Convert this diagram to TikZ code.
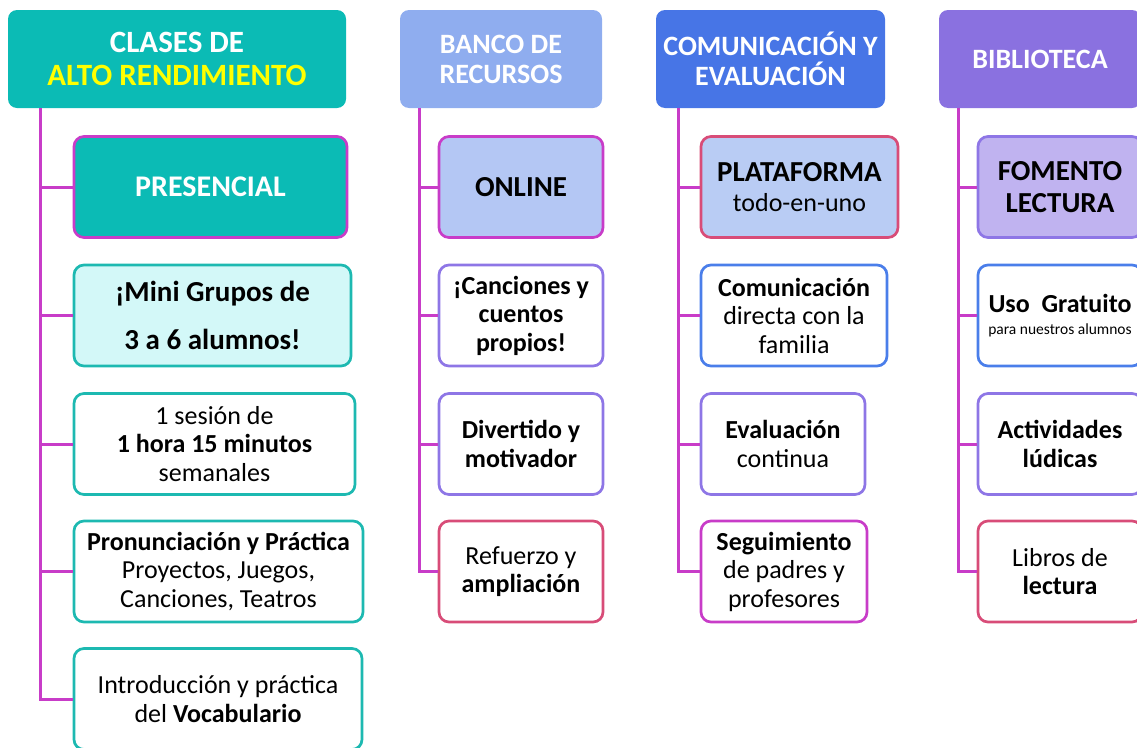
\documentclass[tikz,border=0pt]{standalone}
\usepackage{fontspec}
\setmainfont{Carlito}
\usetikzlibrary{calc, positioning}

\definecolor{cTeal}{HTML}{0BBBB5}
\definecolor{cTealB}{HTML}{1DB9B1}
\definecolor{cCyan}{HTML}{D3F8F8}
\definecolor{cYel}{HTML}{FFFF00}
\definecolor{cPeri}{HTML}{8FADEF}
\definecolor{cRoyal}{HTML}{4775E6}
\definecolor{cViol}{HTML}{8A71E0}
\definecolor{cLav}{HTML}{B4C7F4}
\definecolor{cLav2}{HTML}{B9CCF4}
\definecolor{cLil}{HTML}{C0B3F0}
\definecolor{cMag}{HTML}{C83CC8}
\definecolor{cPur}{HTML}{8E76E6}
\definecolor{cRed}{HTML}{D84C78}
\definecolor{cBlue}{HTML}{4A7EEA}

\begin{document}
\begin{tikzpicture}[x=1pt, y=-1pt,
  head/.style={fill=#1, rounded corners=9pt, text=white, align=center,
    inner sep=0pt, minimum height=98pt,
    font=\bfseries\fontsize{28}{30}\selectfont},
  box/.style={draw=#1, fill=white, line width=2.7pt, rounded corners=10pt,
    align=center, inner sep=0pt, minimum height=101pt,
    font=\fontsize{26}{28.5}\selectfont},
  link/.style={draw=cMag, line width=3pt}]
\def\rA{187}
\def\rB{315.5}
\def\rC{444}
\def\rD{571.5}
\useasboundingbox (0,0) rectangle (1137,747);
\clip (0,0) rectangle (1137,747);

\node[head=cTeal, minimum width=338pt, font=\bfseries\fontsize{31}{33}\selectfont]
  (hA) at (177,59) {CLASES DE\\\textcolor{cYel}{ALTO RENDIMIENTO}};
\node[head=cPeri, minimum width=202pt] (hB) at (501,59) {BANCO DE\\RECURSOS};
\node[head=cRoyal, minimum width=229pt] (hC) at (770.5,59) {COMUNICACIÓN Y\\EVALUACIÓN};
\node[head=cViol, minimum width=202pt] (hD) at (1040,59) {BIBLIOTECA};

\coordinate (tA) at (40,108);
\coordinate (tB) at (419,108);
\coordinate (tC) at (678,108);
\coordinate (tD) at (958,108);

% clases
\node[box=cMag, fill=cTeal, text=white, minimum width=273pt,
  font=\bfseries\fontsize{30}{32}\selectfont] (a1) at (210.5,\rA) {PRESENCIAL};
\node[box=cTealB, fill=cCyan, minimum width=277pt,
  font=\bfseries\fontsize{29}{48}\selectfont] (a2) at (212.5,\rB) {¡Mini Grupos de\\3 a 6 alumnos!};
\node[box=cTealB, minimum width=281pt] (a3) at (214.5,\rC)
  {1 sesión de\\\textbf{1 hora 15 minutos}\\semanales};
\node[box=cTealB, minimum width=289pt] (a4) at (218.5,\rD)
  {\textbf{Pronunciación y Práctica}\\Proyectos, Juegos,\\Canciones, Teatros};
\node[box=cTealB, minimum width=288pt] (a5) at (218,699)
  {Introducción y práctica\\del \textbf{Vocabulario}};

% recursos
\node[box=cMag, fill=cLav, minimum width=164pt,
  font=\bfseries\fontsize{29}{32}\selectfont] (b1) at (521,\rA) {ONLINE};
\node[box=cPur, minimum width=164pt] (b2) at (521,\rB) {\textbf{¡Canciones y}\\\textbf{cuentos}\\\textbf{propios!}};
\node[box=cPur, minimum width=164pt] (b3) at (521,\rC) {\textbf{Divertido y}\\\textbf{motivador}};
\node[box=cRed, minimum width=164pt] (b4) at (521,\rD) {Refuerzo y\\\textbf{ampliación}};

% comunicacion
\node[box=cRed, fill=cLav2, minimum width=197pt, font=\fontsize{26}{30}\selectfont]
  (c1) at (799.5,\rA) {{\bfseries\fontsize{29}{30}\selectfont PLATAFORMA}\\todo-en-uno};
\node[box=cBlue, minimum width=186pt] (c2) at (794,\rB) {\textbf{Comunicación}\\directa con la\\familia};
\node[box=cPur, minimum width=164pt] (c3) at (783,\rC) {\textbf{Evaluación}\\continua};
\node[box=cMag, minimum width=166pt] (c4) at (784,\rD) {\textbf{Seguimiento}\\de padres y\\profesores};

% biblioteca
\node[box=cPur, fill=cLil, minimum width=164pt,
  font=\bfseries\fontsize{29}{32}\selectfont] (d1) at (1060,\rA) {FOMENTO\\LECTURA};
\node[box=cBlue, minimum width=164pt, font=\fontsize{26}{22}\selectfont] (d2) at (1060,\rB)
  {\textbf{Uso\ \ Gratuito}\\{\fontsize{15.5}{22}\selectfont para nuestros alumnos}};
\node[box=cPur, minimum width=164pt] (d3) at (1060,\rC) {\textbf{Actividades}\\\textbf{lúdicas}};
\node[box=cRed, minimum width=164pt] (d4) at (1060,\rD) {Libros de\\\textbf{lectura}};

\draw[link] (tA) |- (a5.west);
\foreach \n in {a1,a2,a3,a4} \draw[link] (tA |- \n.west) -- (\n.west);
\draw[link] (tB) |- (b4.west);
\foreach \n in {b1,b2,b3} \draw[link] (tB |- \n.west) -- (\n.west);
\draw[link] (tC) |- (c4.west);
\foreach \n in {c1,c2,c3} \draw[link] (tC |- \n.west) -- (\n.west);
\draw[link] (tD) |- (d4.west);
\foreach \n in {d1,d2,d3} \draw[link] (tD |- \n.west) -- (\n.west);
\end{tikzpicture}
\end{document}
